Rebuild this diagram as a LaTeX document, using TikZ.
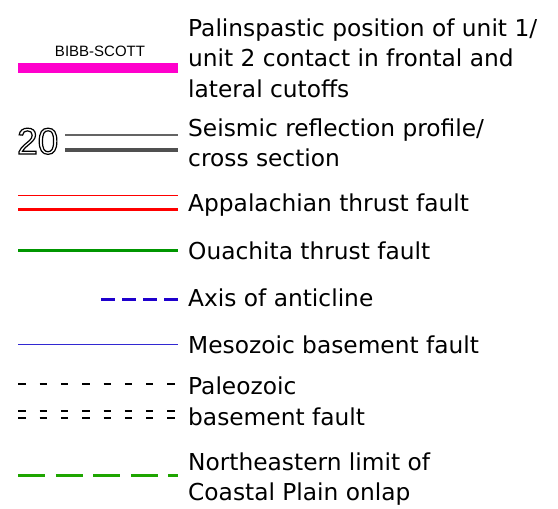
\documentclass[tikz,border=0pt]{standalone}
\usepackage{fontspec}
\setmainfont{DejaVu Sans}
\newfontfamily\arialfont{Liberation Sans}
\definecolor{barpink}{RGB}{255,0,204}
\definecolor{profgray}{RGB}{100,100,100}
\definecolor{profdark}{RGB}{80,80,80}
\definecolor{faultred}{RGB}{255,0,0}
\definecolor{ouagreen}{RGB}{0,150,0}
\definecolor{axisblue}{RGB}{30,0,205}
\definecolor{mesoblue}{RGB}{50,40,210}
\definecolor{onlapgreen}{RGB}{30,165,0}
\newcommand{\outlinetext}[1]{\special{pdf:literal direct 1 Tr 1.2 w}#1\special{pdf:literal direct 0 Tr}}
\begin{document}
\begin{tikzpicture}[x=1pt,y=-1pt,
  lab/.style={anchor=base west,inner sep=0pt,font=\fontsize{23.3}{28}\selectfont},
  small/.style={anchor=base,inner sep=0pt,font=\arialfont\fontsize{15}{18}\selectfont},
  numlab/.style={anchor=base west,inner sep=0pt,font=\arialfont\fontsize{37}{40}\selectfont},
  pinkbar/.style={draw=barpink,line width=10pt},
  proftop/.style={draw=profgray,line width=2pt},
  profbot/.style={draw=profdark,line width=4pt},
  redthin/.style={fill=faultred,draw=none},
  redthick/.style={draw=faultred,line width=3pt},
  oualine/.style={draw=ouagreen,line width=2.8pt},
  axisline/.style={draw=axisblue,line width=3pt,dash pattern=on 14pt off 7pt},
  mesoline/.style={draw=mesoblue,line width=1pt},
  paleoline/.style={draw=black,line width=2pt,dash pattern=on 7.3pt off 14pt},
  onlapline/.style={draw=onlapgreen,line width=3pt,dash pattern=on 26.7pt off 10.8pt}]
\useasboundingbox (0,0) rectangle (558,509);

% symbols
\coordinate (pa) at (18,68);   \coordinate (pb) at (178,68);
\draw[pinkbar] (pa) -- (pb);
\coordinate (sa) at (65,135);  \coordinate (sb) at (178,135);
\draw[proftop] (sa) -- (sb);
\coordinate (sc) at (65,150);  \coordinate (sd) at (178,150);
\draw[profbot] (sc) -- (sd);
\coordinate (ra) at (18,194.8); \coordinate (rb) at (178,196.2);
\fill[redthin] (ra) rectangle (rb);
\coordinate (rc) at (18,209); \coordinate (rd) at (178,209);
\draw[redthick] (rc) -- (rd);
\coordinate (oa) at (18,250.7); \coordinate (ob) at (178,250.7);
\draw[oualine] (oa) -- (ob);
\coordinate (aa) at (101,299.3); \coordinate (ab) at (178,299.3);
\draw[axisline] (aa) -- (ab);
\coordinate (ma) at (18,344.5); \coordinate (mb) at (178,344.5);
\draw[mesoline] (ma) -- (mb);
\coordinate (ka) at (18.3,384.3); \coordinate (kb) at (178,384.3);
\draw[paleoline] (ka) -- (kb);
\coordinate (kc) at (18.3,410.7); \coordinate (kd) at (178,410.7);
\draw[paleoline] (kc) -- (kd);
\coordinate (ke) at (18.3,417.5); \coordinate (kf) at (178,417.5);
\draw[paleoline] (ke) -- (kf);
\coordinate (ga) at (18.3,475.7); \coordinate (gb) at (178,475.7);
\draw[onlapline] (ga) -- (gb);

% texts
\node[lab] (t1) at (188,36) {Palinspastic position of unit 1/};
\node[lab] (t2) at (188,66.7) {unit 2 contact in frontal and};
\node[lab] (t3) at (188,97.7) {lateral cutoffs};
\node[lab] (t4) at (188,136.7) {Seismic reflection profile/};
\node[lab] (t5) at (188,166.7) {cross section};
\node[lab] (t6) at (188,211.7) {Appalachian thrust fault};
\node[lab] (t7) at (188,259) {Ouachita thrust fault};
\node[lab] (t8) at (188,306.7) {Axis of anticline};
\node[lab] (t9) at (188,353.3) {Mesozoic basement fault};
\node[lab] (t10) at (188,394.3) {Paleozoic};
\node[lab] (t11) at (188,425) {basement fault};
\node[lab] (t12) at (188,470) {Northeastern limit of};
\node[lab] (t13) at (188,500) {Coastal Plain onlap};

\node[small] (bibb) at (100,56.7) {BIBB-SCOTT};
\node[numlab] (num) at (17,154) {\outlinetext{20}};
\end{tikzpicture}
\end{document}
